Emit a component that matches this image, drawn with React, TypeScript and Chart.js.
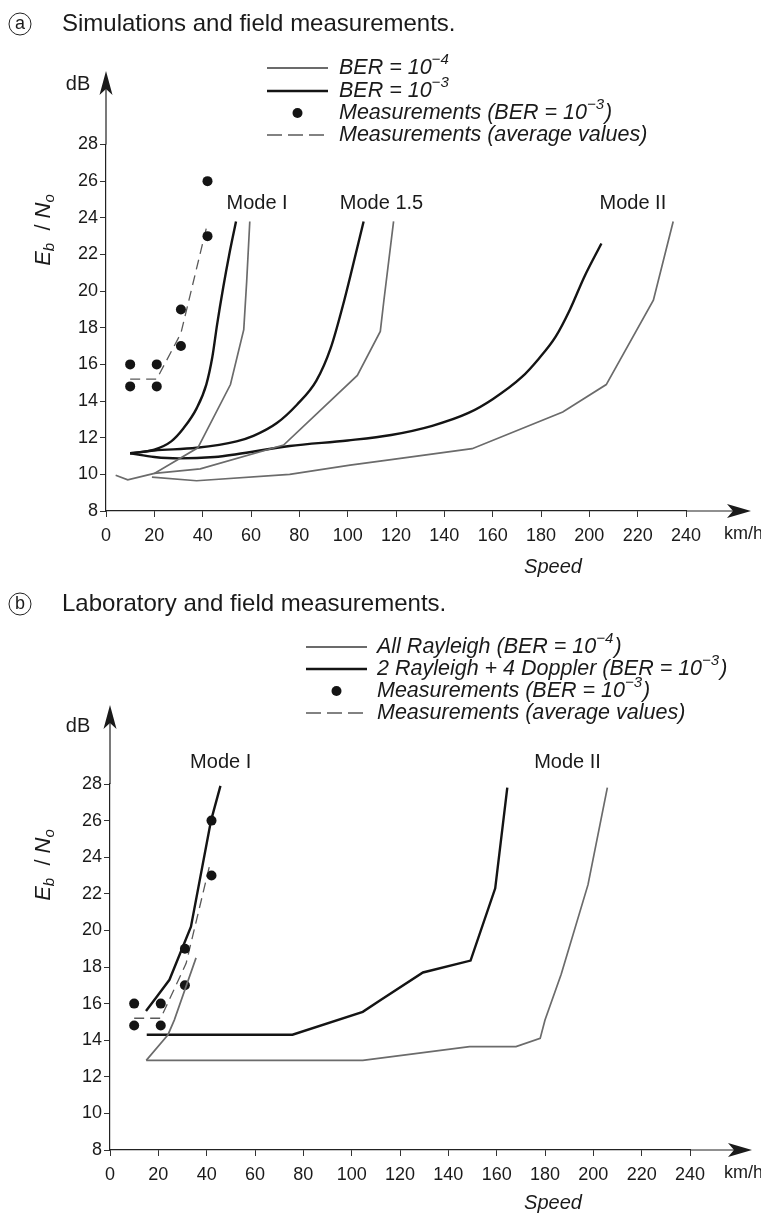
import React, { useEffect, useRef } from "react";
import { Chart, registerables } from "chart.js";

Chart.register(...registerables);

type Pt = [number, number];

// ---------- axes ----------
const SPEED_MIN = 0;
const SPEED_MAX = 240;
const SPEED_STEP = 20;
const EBNO_MIN = 8;
const EBNO_MAX = 28;
const EBNO_STEP = 2;

// ---------- panel (a): simulations and field measurements ----------
const aTitle = "Simulations and field measurements.";
const aLegend = [
  "BER = 10^{−4}",
  "BER = 10^{−3}",
  "Measurements (BER = 10^{−3})",
  "Measurements (average values)",
];
// BER = 1e-4 (grey)
const aBer4ModeI: Pt[] = [[4, 9.95], [9, 9.7], [20, 10.05], [38, 11.45], [51.5, 14.9], [57, 17.9], [58.2, 20.5], [59.5, 23.8]];
const aBer4Mode15: Pt[] = [[20, 10.05], [39, 10.3], [73.5, 11.6], [104, 15.4], [113.5, 17.8], [115, 19.5], [119, 23.8]];
const aBer4ModeII: Pt[] = [[19, 9.85], [37.5, 9.65], [76, 10.0], [101, 10.5], [118, 10.8], [151.5, 11.4], [189, 13.4], [207, 14.9], [226.5, 19.5], [234.7, 23.8]];
// BER = 1e-3 (black)
const aBer3ModeI: Pt[] = [[10, 11.15], [20, 11.35], [27, 11.8], [32, 12.5], [37.5, 13.6], [41.5, 14.9], [44, 16.4], [46, 18.2], [48.5, 20.2], [51, 22], [53.8, 23.8]];
const aBer3Mode15: Pt[] = [[10, 11.15], [20, 11.3], [37.5, 11.45], [54, 11.8], [61, 12.1], [70.7, 12.8], [79, 13.8], [87, 15.1], [93, 16.9], [98, 19.2], [102, 21.3], [106.6, 23.8]];
const aBer3ModeII: Pt[] = [[10, 11.15], [20, 10.95], [30, 10.87], [45, 10.95], [54, 11.1], [76, 11.55], [100, 11.85], [118, 12.15], [135, 12.65], [150, 13.35], [160, 14.1], [172, 15.3], [179, 16.3], [186, 17.5], [192, 19.0], [198, 20.8], [205, 22.6]];
// measurements
const aMeasSpeed = [10, 10, 21, 21, 31, 31, 42, 42];
const aMeasEbNo = [16, 14.8, 16, 14.8, 19, 17, 26, 23];
const aAverage: Pt[] = [[10, 15.2], [21, 15.2], [31, 17.7], [42, 23.7]];
const aModeText = ["Mode I", "Mode 1.5", "Mode II"];
const aModeAt: Pt[] = [[62.5, 24.8], [114, 24.8], [218, 24.8]];

// ---------- panel (b): laboratory and field measurements ----------
const bTitle = "Laboratory and field measurements.";
const bLegend = [
  "All Rayleigh (BER = 10^{−4})",
  "2 Rayleigh + 4 Doppler (BER = 10^{−3})",
  "Measurements (BER = 10^{−3})",
  "Measurements (average values)",
];
const bRayleighModeI: Pt[] = [[15, 12.9], [24, 14.3], [26.6, 15.1], [35.6, 18.5]];
const bRayleighModeII: Pt[] = [[15, 12.9], [60, 12.9], [104.6, 12.9], [148.8, 13.65], [168, 13.65], [178, 14.1], [180, 15.1], [186.7, 17.6], [197.8, 22.5], [205.8, 27.8]];
const bDopplerModeI: Pt[] = [[14.9, 15.6], [19.5, 16.4], [24.6, 17.3], [33.5, 20.2], [41.8, 26], [45.7, 27.9]];
const bDopplerModeII: Pt[] = [[15.2, 14.3], [75.5, 14.3], [104.6, 15.55], [112, 16.2], [129.5, 17.7], [149.2, 18.35], [159.4, 22.3], [164.4, 27.8]];
const bMeasSpeed = [10, 10, 21, 21, 31, 31, 42, 42];
const bMeasEbNo = [16, 14.8, 16, 14.8, 19, 17, 26, 23];
const bAverage: Pt[] = [[10, 15.2], [21, 15.2], [31.5, 18.2], [41.5, 23.7]];
const bModeText = ["Mode I", "Mode II"];
const bModeAt: Pt[] = [[45.8, 29.2], [189.3, 29.2]];

// ---------- styling ----------
const FONT = "'Liberation Sans', Arial, Helvetica, sans-serif";
const GREY = "#6b6b6b";
const BLACK = "#141414";
const DASH = "#5a5a5a";

type Panel = {
  letter: string;
  title: string;
  legend: string[];
  grey: Pt[][];
  black: Pt[][];
  smoothBlack: boolean;
  measX: number[];
  measY: number[];
  average: Pt[];
  modeText: string[];
  modeAt: Pt[];
  canvasTop: number;
  height: number;
  layout: {
    left: number;
    right: number;
    top: number;
    bottom: number;
    titleY: number;
    legendX1: number;
    legendX2: number;
    legendTextX: number;
    legendY: number[];
    arrowTipY: number;
    arrowTipX: number;
    dbX: number;
    dbY: number;
    yTitleX: number;
    yTitleY: number;
    speedX: number;
    speedY: number;
  };
};

const panels: Panel[] = [
  {
    letter: "a",
    title: aTitle,
    legend: aLegend,
    grey: [aBer4ModeI, aBer4Mode15, aBer4ModeII],
    black: [aBer3ModeI, aBer3Mode15, aBer3ModeII],
    smoothBlack: true,
    measX: aMeasSpeed,
    measY: aMeasEbNo,
    average: aAverage,
    modeText: aModeText,
    modeAt: aModeAt,
    canvasTop: 0,
    height: 580,
    layout: {
      left: 106, right: 686, top: 144.5, bottom: 511,
      titleY: 24,
      legendX1: 267, legendX2: 328, legendTextX: 339,
      legendY: [68, 91, 113, 135],
      arrowTipY: 71, arrowTipX: 751,
      dbX: 78, dbY: 84,
      yTitleX: 44, yTitleY: 230,
      speedX: 553, speedY: 567,
    },
  },
  {
    letter: "b",
    title: bTitle,
    legend: bLegend,
    grey: [bRayleighModeI, bRayleighModeII],
    black: [bDopplerModeI, bDopplerModeII],
    smoothBlack: false,
    measX: bMeasSpeed,
    measY: bMeasEbNo,
    average: bAverage,
    modeText: bModeText,
    modeAt: bModeAt,
    canvasTop: 580,
    height: 636,
    layout: {
      left: 110, right: 690, top: 204, bottom: 570,
      titleY: 24,
      legendX1: 306, legendX2: 367, legendTextX: 377,
      legendY: [67, 89, 111, 133],
      arrowTipY: 125, arrowTipX: 752,
      dbX: 78, dbY: 146,
      yTitleX: 44, yTitleY: 285,
      speedX: 553, speedY: 623,
    },
  },
];

const toXY = (pts: Pt[]) => pts.map(([x, y]) => ({ x, y }));

function drawRich(ctx: CanvasRenderingContext2D, text: string, x: number, y: number, size: number, italic: boolean) {
  const re = /\^\{([^}]*)\}/g;
  const parts: { t: string; sup: boolean }[] = [];
  let last = 0;
  let m: RegExpExecArray | null;
  while ((m = re.exec(text))) {
    if (m.index > last) parts.push({ t: text.slice(last, m.index), sup: false });
    parts.push({ t: m[1], sup: true });
    last = m.index + m[0].length;
  }
  if (last < text.length) parts.push({ t: text.slice(last), sup: false });
  let cx = x;
  const st = italic ? "italic " : "";
  for (const p of parts) {
    const s = p.sup ? Math.round(size * 0.68) : size;
    ctx.font = `${st}${s}px ${FONT}`;
    ctx.fillText(p.t, cx, p.sup ? y - size * 0.36 : y);
    cx += ctx.measureText(p.t).width + (p.sup ? 1 : 0);
  }
}

const decorPlugin = {
  id: "decor",
  afterDraw(chart: any, _args: any, opts: any) {
    const panel: Panel = opts.panel;
    const L = panel.layout;
    const ctx: CanvasRenderingContext2D = chart.ctx;
    const { left, right, top, bottom } = chart.chartArea;
    const xs = chart.scales.x;
    const ys = chart.scales.y;
    ctx.save();
    ctx.fillStyle = "#1a1a1a";
    ctx.strokeStyle = "#222";

    // axis extensions and arrow heads
    ctx.lineWidth = 1.2;
    ctx.beginPath();
    ctx.moveTo(left, top);
    ctx.lineTo(left, L.arrowTipY + 14);
    ctx.moveTo(right, bottom);
    ctx.lineTo(L.arrowTipX - 14, bottom);
    ctx.stroke();
    ctx.beginPath();
    ctx.moveTo(left, L.arrowTipY);
    ctx.lineTo(left - 6.5, L.arrowTipY + 24);
    ctx.lineTo(left, L.arrowTipY + 18);
    ctx.lineTo(left + 6.5, L.arrowTipY + 24);
    ctx.closePath();
    ctx.fill();
    ctx.beginPath();
    ctx.moveTo(L.arrowTipX, bottom);
    ctx.lineTo(L.arrowTipX - 24, bottom - 7);
    ctx.lineTo(L.arrowTipX - 18, bottom);
    ctx.lineTo(L.arrowTipX - 24, bottom + 7);
    ctx.closePath();
    ctx.fill();

    // dB, km/h, Speed
    ctx.textBaseline = "middle";
    ctx.textAlign = "center";
    ctx.font = `20px ${FONT}`;
    ctx.fillText("dB", L.dbX, L.dbY);
    ctx.textAlign = "left";
    ctx.font = `18px ${FONT}`;
    ctx.fillText("km/h", 724, bottom + 23);
    ctx.textAlign = "center";
    ctx.font = `italic 20px ${FONT}`;
    ctx.fillText("Speed", L.speedX, L.speedY);

    // rotated y title  E_b / N_o
    ctx.save();
    ctx.translate(L.yTitleX, L.yTitleY);
    ctx.rotate(-Math.PI / 2);
    ctx.textAlign = "left";
    ctx.textBaseline = "middle";
    const segs = [
      { t: "E", f: `italic 22px ${FONT}`, dy: 0 },
      { t: "b", f: `italic 15px ${FONT}`, dy: 6 },
      { t: "  / ", f: `22px ${FONT}`, dy: 0 },
      { t: "N", f: `italic 22px ${FONT}`, dy: 0 },
      { t: "o", f: `italic 15px ${FONT}`, dy: 6 },
    ];
    let w = 0;
    for (const s of segs) { ctx.font = s.f; w += ctx.measureText(s.t).width; }
    let cx = -w / 2;
    for (const s of segs) { ctx.font = s.f; ctx.fillText(s.t, cx, s.dy); cx += ctx.measureText(s.t).width; }
    ctx.restore();

    // panel letter and title
    ctx.lineWidth = 1;
    ctx.beginPath();
    ctx.arc(20, L.titleY, 11, 0, Math.PI * 2);
    ctx.stroke();
    ctx.textAlign = "center";
    ctx.font = `18px ${FONT}`;
    ctx.fillText(panel.letter, 20, L.titleY);
    ctx.textAlign = "left";
    ctx.font = `24px ${FONT}`;
    ctx.fillText(panel.title, 62, L.titleY);

    // legend
    const kinds = ["grey", "black", "dot", "dash"];
    panel.legend.forEach((lab, i) => {
      const y = L.legendY[i];
      const k = kinds[i];
      ctx.save();
      if (k === "dot") {
        ctx.beginPath();
        ctx.arc((L.legendX1 + L.legendX2) / 2, y, 5, 0, Math.PI * 2);
        ctx.fillStyle = BLACK;
        ctx.fill();
      } else {
        ctx.beginPath();
        ctx.strokeStyle = k === "grey" ? GREY : k === "black" ? BLACK : DASH;
        ctx.lineWidth = k === "grey" ? 1.8 : k === "black" ? 2.4 : 1.4;
        if (k === "dash") ctx.setLineDash([15, 6]);
        ctx.moveTo(L.legendX1, y);
        ctx.lineTo(L.legendX2, y);
        ctx.stroke();
      }
      ctx.restore();
      ctx.textAlign = "left";
      ctx.textBaseline = "middle";
      drawRich(ctx, lab, L.legendTextX, y, 21.5, true);
    });

    // mode labels (placed in data space)
    ctx.textAlign = "center";
    ctx.textBaseline = "middle";
    ctx.font = `20px ${FONT}`;
    panel.modeText.forEach((t, i) => {
      const [mx, my] = panel.modeAt[i];
      ctx.fillText(t, xs.getPixelForValue(mx), ys.getPixelForValue(my));
    });
    ctx.restore();
  },
};

function buildConfig(panel: Panel): any {
  const L = panel.layout;
  const datasets: any[] = [];
  panel.grey.forEach((d) =>
    datasets.push({
      label: panel.legend[0], data: toXY(d), borderColor: GREY, borderWidth: 1.7,
      pointRadius: 0, tension: 0, fill: false,
    })
  );
  panel.black.forEach((d) =>
    datasets.push({
      label: panel.legend[1], data: toXY(d), borderColor: BLACK, borderWidth: 2.4,
      pointRadius: 0, fill: false,
      cubicInterpolationMode: panel.smoothBlack ? "monotone" : "default", tension: 0,
    })
  );
  datasets.push({
    label: panel.legend[2],
    data: panel.measX.map((x, i) => ({ x, y: panel.measY[i] })),
    showLine: false, pointRadius: 5, pointBackgroundColor: BLACK, pointBorderColor: BLACK,
    pointBorderWidth: 0,
  });
  datasets.push({
    label: panel.legend[3], data: toXY(panel.average), borderColor: DASH, borderWidth: 1.3,
    borderDash: [10, 6], pointRadius: 0, tension: 0, fill: false,
  });

  const axisFont = { size: 18, family: FONT };
  return {
    type: "line",
    data: { datasets },
    plugins: [decorPlugin],
    options: {
      animation: false,
      responsive: false,
      maintainAspectRatio: false,
      events: [],
      layout: { padding: { left: 0, right: 761 - L.right, top: L.top, bottom: 0 } },
      plugins: {
        legend: { display: false },
        tooltip: { enabled: false },
        title: { display: false },
        decor: { panel },
      },
      scales: {
        x: {
          type: "linear",
          min: SPEED_MIN,
          max: SPEED_MAX,
          ticks: { stepSize: SPEED_STEP, font: axisFont, color: "#1a1a1a", padding: 8, maxRotation: 0, autoSkip: false },
          grid: { drawOnChartArea: false, drawTicks: true, tickLength: 6, color: "#333", lineWidth: 1 },
          border: { display: true, color: "#222", width: 1.2 },
          afterFit: (s: any) => { s.height = panel.height - L.bottom; },
        },
        y: {
          type: "linear",
          min: EBNO_MIN,
          max: EBNO_MAX,
          ticks: { stepSize: EBNO_STEP, font: axisFont, color: "#1a1a1a", padding: 2 },
          grid: { drawOnChartArea: false, drawTicks: true, tickLength: 6, color: "#333", lineWidth: 1 },
          border: { display: true, color: "#222", width: 1.2 },
          afterFit: (s: any) => { s.width = L.left; },
        },
      },
    },
  };
}

function PanelChart({ panel }: { panel: Panel }) {
  const ref = useRef<HTMLCanvasElement | null>(null);
  useEffect(() => {
    if (!ref.current) return;
    const chart = new Chart(ref.current, buildConfig(panel));
    return () => chart.destroy();
  }, [panel]);
  return (
    <canvas
      ref={ref}
      width={761}
      height={panel.height}
      style={{ position: "absolute", left: 0, top: panel.canvasTop, width: 761, height: panel.height, display: "block" }}
    />
  );
}

export default function App() {
  return (
    <div style={{ position: "absolute", left: 0, top: 0, width: 761, height: 1216, background: "#fff", overflow: "hidden" }}>
      {panels.map((p) => (
        <PanelChart key={p.letter} panel={p} />
      ))}
    </div>
  );
}
